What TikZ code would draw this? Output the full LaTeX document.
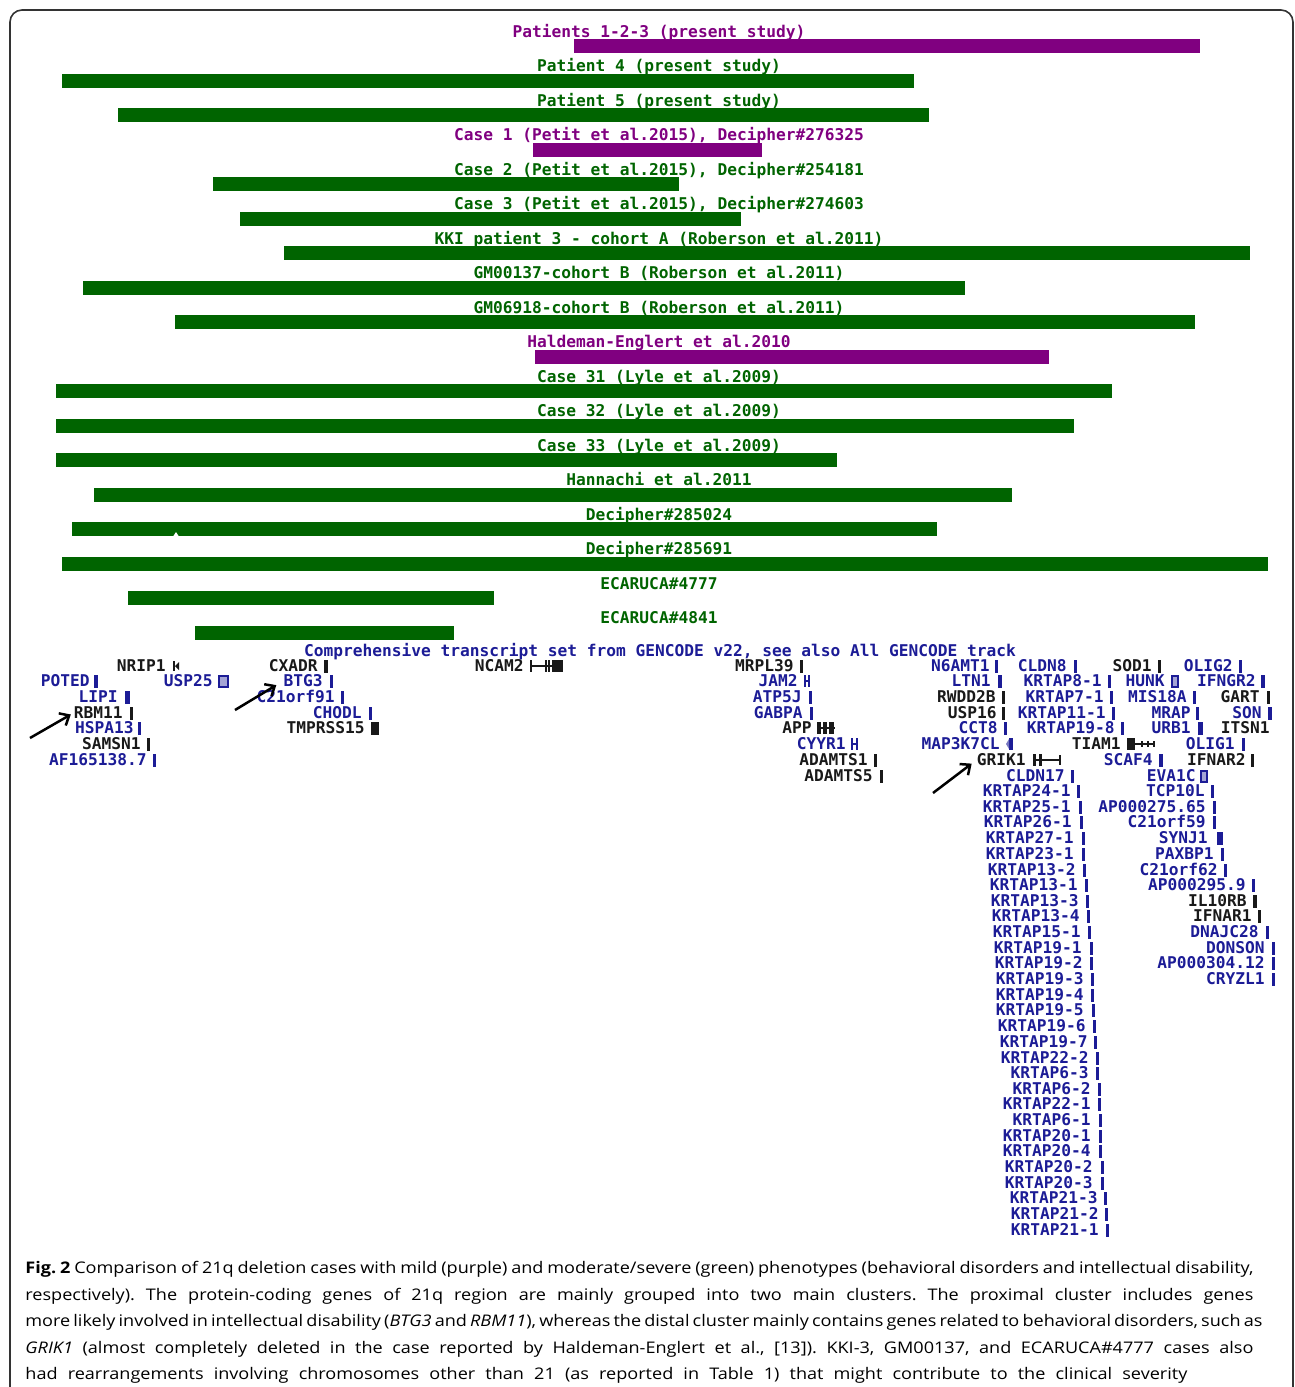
\documentclass[tikz,border=0pt]{standalone}
\usepackage{fontspec}
\setmainfont{Open Sans}
\newfontfamily\browserfont{DejaVu Sans Mono Bold}
\newfontfamily\capfont[FakeStretch=1.13]{Open Sans}
\usetikzlibrary{arrows.meta}

\definecolor{mild}{RGB}{128,0,128}
\definecolor{severe}{RGB}{0,100,0}
\definecolor{genblue}{RGB}{28,28,150}
\definecolor{genblack}{RGB}{25,25,25}

\tikzset{
  track/.style={font=\browserfont\fontsize{8.1}{8}\selectfont, inner sep=0, text height=5.8pt, text depth=0pt},
  gene/.style={track, anchor=east},
  pointer/.style={-{Straight Barb[length=4pt,width=7pt]}, line width=1.25pt, black},
  frameline/.style={draw=black!80, line width=0.8pt, rounded corners=6pt},
}

\begin{document}
\begin{tikzpicture}[x=0.5pt,y=-0.5pt]
  \useasboundingbox (0,0) rectangle (1295,1387);
  \draw[frameline] (10,1400) -- (10,10) -- (1293,10) -- (1293,1400);

  % deletions: mild (purple), moderate/severe (green)
  \fill[mild] (574,39) rectangle (1200,53);
  \node[track, text=mild] (pat123) at (659,31.5) {Patients 1-2-3 (present study)};
  \fill[severe] (62,73.5) rectangle (914,87.5);
  \node[track, text=severe] (pat4) at (659,66) {Patient 4 (present study)};
  \fill[severe] (118,108) rectangle (929,122);
  \node[track, text=severe] (pat5) at (659,100.5) {Patient 5 (present study)};
  \fill[mild] (533,142.5) rectangle (762,156.5);
  \node[track, text=mild] (petit1) at (659,135) {Case 1 (Petit et al.2015), Decipher\#276325};
  \fill[severe] (213,177) rectangle (679,191);
  \node[track, text=severe] (petit2) at (659,169.5) {Case 2 (Petit et al.2015), Decipher\#254181};
  \fill[severe] (240,211.5) rectangle (741,225.5);
  \node[track, text=severe] (petit3) at (659,204) {Case 3 (Petit et al.2015), Decipher\#274603};
  \fill[severe] (284,246) rectangle (1250,260);
  \node[track, text=severe] (kki) at (659,238.5) {KKI patient 3 - cohort A (Roberson et al.2011)};
  \fill[severe] (83,280.5) rectangle (965,294.5);
  \node[track, text=severe] (gm137) at (659,273) {GM00137-cohort B (Roberson et al.2011)};
  \fill[severe] (175,315) rectangle (1195,329);
  \node[track, text=severe] (gm6918) at (659,307.5) {GM06918-cohort B (Roberson et al.2011)};
  \fill[mild] (535,349.5) rectangle (1049,363.5);
  \node[track, text=mild] (haldeman) at (659,342) {Haldeman-Englert et al.2010};
  \fill[severe] (56,384) rectangle (1112,398);
  \node[track, text=severe] (lyle31) at (659,376.5) {Case 31 (Lyle et al.2009)};
  \fill[severe] (56,418.5) rectangle (1074,432.5);
  \node[track, text=severe] (lyle32) at (659,411) {Case 32 (Lyle et al.2009)};
  \fill[severe] (56,453) rectangle (837,467);
  \node[track, text=severe] (lyle33) at (659,445.5) {Case 33 (Lyle et al.2009)};
  \fill[severe] (94,487.5) rectangle (1012,501.5);
  \node[track, text=severe] (hannachi) at (659,480) {Hannachi et al.2011};
  \fill[severe] (72,522) rectangle (937,536);
  \fill[white] (173,536.5) -- (176,532) -- (179,536.5) -- cycle;
  \node[track, text=severe] (dec285024) at (659,514.5) {Decipher\#285024};
  \fill[severe] (62,556.5) rectangle (1268,570.5);
  \node[track, text=severe] (dec285691) at (659,549) {Decipher\#285691};
  \fill[severe] (128,591) rectangle (494,605);
  \node[track, text=severe] (eca4777) at (659,583.5) {ECARUCA\#4777};
  \fill[severe] (195,625.5) rectangle (454,639.5);
  \node[track, text=severe] (eca4841) at (659,618) {ECARUCA\#4841};

  % gene track
  \node[track, text=genblue] (gencode) at (660,651) {Comprehensive transcript set from GENCODE v22, see also All GENCODE track};

  \foreach \g/\x/\y/\c/\bx/\bw in {
      POTED/90/681/genblue/94/4, LIPI/118/697/genblue/125/5,
      RBM11/123/713/genblack/130/2.5, HSPA13/134/728/genblue/138/2.5,
      SAMSN1/141/744/genblack/147/3, AF165138.7/147/760/genblue/153/3,
      CXADR/318/666/genblack/324/4, BTG3/323/681/genblue/330/2.5,
      C21orf91/335/697/genblue/341/2.5, CHODL/362/713/genblue/369/2.5,
      TMPRSS15/365/728/genblack/371/8,
      MRPL39/794/666/genblack/800/3, ATP5J/802/697/genblue/809/3,
      GABPA/803/713/genblue/810/3, ADAMTS1/868/760/genblack/874/2.5,
      ADAMTS5/873/776/genblack/880/3,
      N6AMT1/990/666/genblue/995/2.5, LTN1/991/681/genblue/998/4,
      RWDD2B/996/697/genblack/1002/2.5, USP16/997/713/genblack/1002/3,
      CCT8/998/728/genblue/1004/3, CLDN17/1065/776/genblue/1071/2.5,
      CLDN8/1067/666/genblue/1074/2.5, KRTAP8-1/1102/681/genblue/1108/2.5,
      KRTAP7-1/1104/697/genblue/1110/2.5, KRTAP11-1/1106/713/genblue/1112/2.5,
      KRTAP19-8/1115/728/genblue/1121/2.5,
      KRTAP24-1/1071/791/genblue/1077/2.5, KRTAP25-1/1071/807/genblue/1079/2.5,
      KRTAP26-1/1072/822/genblue/1080/2.5, KRTAP27-1/1074/838/genblue/1082/2.5,
      KRTAP23-1/1074/854/genblue/1082/2.5, KRTAP13-2/1076/870/genblue/1083/2.5,
      KRTAP13-1/1078/885/genblue/1085/2.5, KRTAP13-3/1079/901/genblue/1086/2.5,
      KRTAP13-4/1080/916/genblue/1087/2.5, KRTAP15-1/1081/932/genblue/1088/2.5,
      KRTAP19-1/1082/948/genblue/1090/2.5, KRTAP19-2/1083/963/genblue/1090/2.5,
      KRTAP19-3/1084/979/genblue/1091/2.5, KRTAP19-4/1084/995/genblue/1091/2.5,
      KRTAP19-5/1084/1010/genblue/1092/2.5, KRTAP19-6/1086/1026/genblue/1093/2.5,
      KRTAP19-7/1088/1042/genblue/1094/2.5, KRTAP22-2/1089/1058/genblue/1096/2.5,
      KRTAP6-3/1089/1073/genblue/1096/2.5, KRTAP6-2/1091/1089/genblue/1098/2.5,
      KRTAP22-1/1091/1104/genblue/1098/2.5, KRTAP6-1/1091/1120/genblue/1099/2.5,
      KRTAP20-1/1091/1136/genblue/1099/2.5, KRTAP20-4/1091/1151/genblue/1099/2.5,
      KRTAP20-2/1093/1167/genblue/1101/2.5, KRTAP20-3/1093/1183/genblue/1101/2.5,
      KRTAP21-3/1098/1198/genblue/1104/2.5, KRTAP21-2/1099/1214/genblue/1105/2.5,
      KRTAP21-1/1099/1230/genblue/1106/2.5,
      SOD1/1152/666/genblack/1158/2.5, MIS18A/1187/697/genblue/1193/3,
      MRAP/1191/713/genblue/1196/3, URB1/1191/728/genblue/1198/5,
      SCAF4/1153/760/genblue/1159/4, TCP10L/1205/791/genblue/1211/3,
      AP000275.65/1206/807/genblue/1213/3, C21orf59/1206/822/genblue/1213/3,
      SYNJ1/1208/838/genblue/1217/6, PAXBP1/1214/854/genblue/1221/2.5,
      C21orf62/1218/870/genblue/1224/2.5, AP000295.9/1246/885/genblue/1252/2.5,
      IL10RB/1247/901/genblack/1253/4, IFNAR1/1252/916/genblack/1258/3,
      DNAJC28/1259/932/genblue/1266/2.5, DONSON/1265/948/genblue/1272/2.5,
      AP000304.12/1265/963/genblue/1272/2.5, CRYZL1/1265/979/genblue/1272/3,
      OLIG2/1233/666/genblue/1239/2.5, IFNGR2/1256/681/genblue/1261/4,
      GART/1260/697/genblack/1267/3, SON/1262/713/genblue/1268/4,
      OLIG1/1235/744/genblue/1242/2.5, IFNAR2/1246/760/genblack/1251/2.5}
  {
    \node[gene, text=\c] (\g) at (\x,\y) {\g};
    \fill[\c] (\bx,\y-6.5) rectangle ++(\bw,13);
  }

  % genes with exon/intron glyphs
  \node[gene, text=genblack] (NRIP1) at (166,666) {NRIP1};
  \fill[genblack] (173,661) rectangle (175,671);
  \fill[genblack] (175,666) -- (179,662) -- (179,670) -- cycle;
  \node[gene, text=genblue] (USP25) at (213,681) {USP25};
  \filldraw[fill=genblue!40, draw=genblue, line width=0.8pt] (219,676) rectangle (228,687);
  \node[gene, text=genblack] (NCAM2) at (524,666) {NCAM2};
  \draw[genblack, line width=0.6pt] (531,666) -- (552,666);
  \fill[genblack] (530,660) rectangle (532,672);
  \fill[genblack] (545,660) rectangle (547,672);
  \fill[genblack] (548,660) rectangle (550,672);
  \fill[genblack] (552,660) rectangle (563,672);
  \node[gene, text=genblue] (JAM2) at (798,681) {JAM2};
  \fill[genblue] (804,675) rectangle (806,687);
  \fill[genblue] (808,675) rectangle (810,687);
  \draw[genblue, line width=0.6pt] (806,681) -- (808,681);
  \node[gene, text=genblack] (APP) at (812,728) {APP};
  \draw[genblack, line width=0.6pt] (817,728) -- (835,728);
  \fill[genblack] (817,722) rectangle (821,734);
  \fill[genblack] (823,722) rectangle (827,734);
  \fill[genblack] (829,722) rectangle (834,734);
  \node[gene, text=genblue] (CYYR1) at (846,744) {CYYR1};
  \fill[genblue] (851,738) rectangle (853,750);
  \fill[genblue] (856,738) rectangle (858,750);
  \draw[genblue, line width=0.6pt] (853,744) -- (856,744);
  \node[gene, text=genblue] (MAP3K7CL) at (1000,744) {MAP3K7CL};
  \fill[genblue] (1009,738) rectangle (1013,750);
  \fill[genblue!60] (1009,739) -- (1006,744) -- (1009,749) -- cycle;
  \node[gene, text=genblack] (GRIK1) at (1026,760) {GRIK1};
  \fill[genblack] (1033,754) rectangle (1036,766);
  \fill[genblack] (1039,754) rectangle (1042,766);
  \draw[genblack, line width=0.6pt] (1036,760) -- (1060,760);
  \fill[genblack] (1059,755) rectangle (1061,765);
  \node[gene, text=genblack] (TIAM1) at (1121,744) {TIAM1};
  \fill[genblack] (1127,738) rectangle (1135,750);
  \draw[genblack, line width=0.6pt] (1135,744) -- (1155,744);
  \foreach \t in {1141,1147,1153}
    \fill[genblack] (\t,741) rectangle ++(2,6);
  \node[gene, text=genblue] (HUNK) at (1165,681) {HUNK};
  \filldraw[fill=genblue!40, draw=genblue, line width=0.8pt] (1172,676) rectangle (1178,687);
  \node[gene, text=genblue] (EVA1C) at (1196,776) {EVA1C};
  \filldraw[fill=genblue!40, draw=genblue, line width=0.8pt] (1201,771) rectangle (1207,782);
  \node[gene, text=genblack] (ITSN1) at (1270,728) {ITSN1};

  % pointers
  \coordinate (tailA) at (30,738);
  \coordinate (tailB) at (235,710);
  \coordinate (tailC) at (933,793);
  \draw[pointer, shorten >=1.5pt] (tailA) -- (RBM11.west);
  \draw[pointer, shorten >=4pt] (tailB) -- (BTG3.west);
  \draw[pointer, shorten >=3pt] (tailC) -- (GRIK1.west);

  % caption
  \node[anchor=north west, inner sep=0, align=left, font=\capfont\fontsize{8}{13.25}\selectfont\frenchspacing] (caption) at (25,1261) {%
    \makebox[614pt][s]{\textbf{Fig.~2} Comparison of 21q deletion cases with mild (purple) and moderate/severe (green) phenotypes (behavioral disorders and intellectual disability,}\\
    \makebox[614pt][s]{respectively). The protein-coding genes of 21q region are mainly grouped into two main clusters. The proximal cluster includes genes}\\
    \makebox[614pt][s]{more likely involved in intellectual disability (\textit{BTG3} and \textit{RBM11}), whereas the distal cluster mainly contains genes related to behavioral disorders, such as}\\
    \makebox[614pt][s]{\textit{GRIK1} (almost completely deleted in the case reported by Haldeman-Englert et al., [13]). KKI-3, GM00137, and ECARUCA\#4777 cases also}\\
    \makebox[581pt][s]{had rearrangements involving chromosomes other than 21 (as reported in Table 1) that might contribute to the clinical severity}};
\end{tikzpicture}
\end{document}
